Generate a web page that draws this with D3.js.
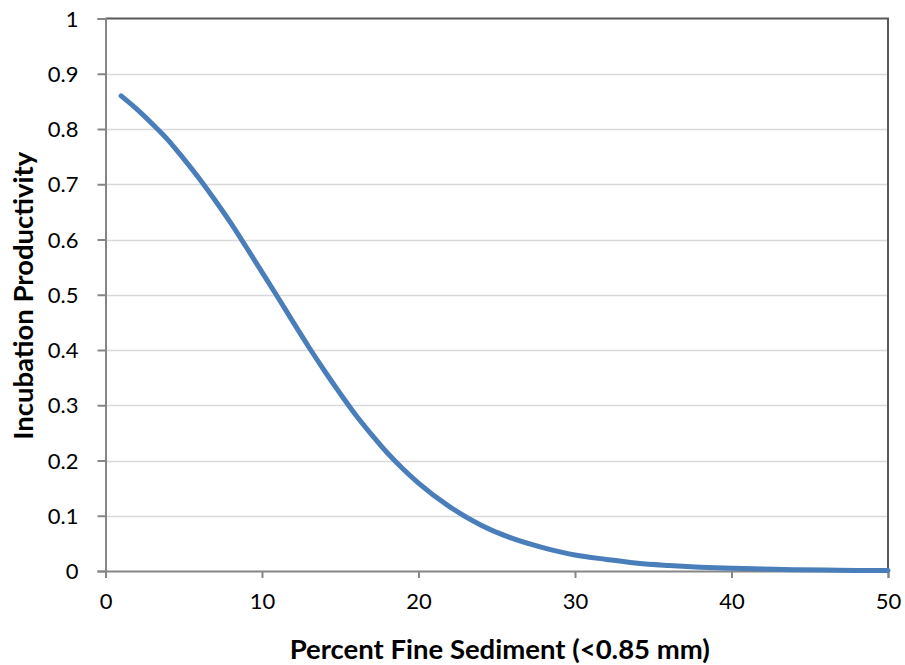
<!DOCTYPE html>
<html>
<head>
<meta charset="utf-8">
<script src="https://cdn.jsdelivr.net/npm/d3@7"></script>
<style>
  html, body { margin: 0; padding: 0; background: #fff; }
  svg { display: block; }
  text { font-family: Lato, "Open Sans", sans-serif; fill: #000; }
</style>
</head>
<body>
<svg id="chart" width="905" height="665"></svg>
<script>
// Percent fine sediment (<0.85 mm) and the corresponding incubation productivity
const fineSediment = [1, 2, 3, 4, 5, 6, 7, 8, 9, 10, 11, 12, 13, 14, 15, 16, 17, 18, 19, 20,
  22, 24, 26, 28, 30, 32, 34, 36, 38, 40, 42, 44, 46, 48, 50];
const productivity = [0.860, 0.836, 0.809, 0.780, 0.746, 0.710, 0.671, 0.630, 0.586, 0.541,
  0.496, 0.450, 0.405, 0.362, 0.321, 0.282, 0.247, 0.214, 0.185, 0.159,
  0.116, 0.083, 0.059, 0.042, 0.029, 0.021, 0.014, 0.010, 0.007, 0.005,
  0.0034, 0.0023, 0.0016, 0.0011, 0.0008];
const xTicks = [0, 10, 20, 30, 40, 50];
const yTicks = [0, 0.1, 0.2, 0.3, 0.4, 0.5, 0.6, 0.7, 0.8, 0.9, 1];
const xTitle = "Percent Fine Sediment (<0.85 mm)";
const yTitle = "Incubation Productivity";

const svg = d3.select("#chart");
const plot = { left: 105.5, right: 888, top: 18.5, bottom: 571 };

const x = d3.scaleLinear().domain([0, 50]).range([plot.left, plot.right]);
const y = d3.scaleLinear().domain([0, 1]).range([plot.bottom, plot.top]);

// horizontal gridlines
svg.append("g")
  .selectAll("line")
  .data(yTicks.filter(d => d > 0 && d < 1))
  .join("line")
  .attr("x1", plot.left).attr("x2", plot.right)
  .attr("y1", d => Math.round(y(d)) + 0.5).attr("y2", d => Math.round(y(d)) + 0.5)
  .attr("stroke", "#d9d9d9").attr("stroke-width", 1.5);

// top and right frame
svg.append("path")
  .attr("d", `M${plot.left},${plot.top}H${plot.right}V${plot.bottom}`)
  .attr("fill", "none").attr("stroke", "#595959").attr("stroke-width", 2);

// y axis
const yAxis = svg.append("g")
  .attr("transform", `translate(${plot.left},0)`)
  .call(d3.axisLeft(y).tickValues(yTicks).tickSize(8).tickPadding(19)
    .tickFormat(d => d3.format("~g")(d)));

// x axis
const xAxis = svg.append("g")
  .attr("transform", `translate(0,${plot.bottom})`)
  .call(d3.axisBottom(x).tickValues(xTicks).tickSize(7).tickPadding(15)
    .tickFormat(d3.format("d")));

[yAxis, xAxis].forEach(g => {
  g.select(".domain").attr("stroke", "#868686").attr("stroke-width", 2);
  g.selectAll(".tick line").attr("stroke", "#868686").attr("stroke-width", 2);
  g.selectAll(".tick text")
    .attr("fill", "#000")
    .style("font-size", "22px")
    .style("font-family", "Lato, sans-serif");
});
yAxis.selectAll(".tick text").attr("dy", "0.35em");

// productivity curve
const line = d3.line()
  .x((d, i) => x(fineSediment[i]))
  .y(d => y(d))
  .curve(d3.curveMonotoneX);

svg.append("path")
  .datum(productivity)
  .attr("d", line)
  .attr("fill", "none")
  .attr("stroke", "#4a7ebb")
  .attr("stroke-width", 5)
  .attr("stroke-linecap", "round")
  .attr("stroke-linejoin", "round");

// axis titles
svg.append("text")
  .attr("x", (plot.left + plot.right) / 2 + 3)
  .attr("y", 659)
  .attr("text-anchor", "middle")
  .style("font-size", "27.5px")
  .style("font-weight", "bold")
  .text(xTitle);

svg.append("text")
  .attr("transform", `translate(33,${(plot.top + plot.bottom) / 2 + 1}) rotate(-90)`)
  .attr("text-anchor", "middle")
  .style("font-size", "27.5px")
  .style("font-weight", "bold")
  .text(yTitle);
</script>
</body>
</html>
